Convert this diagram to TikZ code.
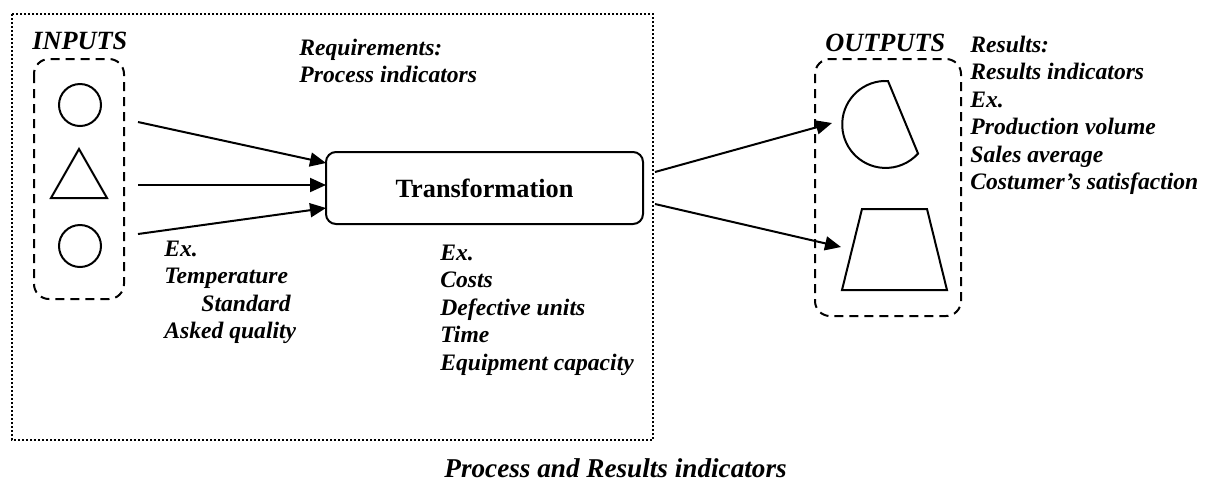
\documentclass[tikz,border=0pt]{standalone}
\usepackage{fontspec}
\setmainfont{Liberation Serif}
\usetikzlibrary{arrows.meta}
\newcommand\lineblock[1]{\vtop{\baselineskip=13.75pt\lineskiplimit=-20pt\halign{##\hfil\cr#1\crcr}}}
\begin{document}
\begin{tikzpicture}[x=0.5pt,y=-0.5pt,
  txt/.style={font=\fontsize{11.8}{13.75}\selectfont\bfseries\itshape, inner sep=0pt, anchor=base west},
  head/.style={font=\fontsize{13.15}{15}\selectfont\bfseries\itshape, inner sep=0pt, anchor=base west},
  arr/.style={line width=1pt, -{Triangle[length=8pt,width=7pt]}},
  shp/.style={line width=1pt},
  grp/.style={line width=1pt, dash pattern=on 4.5pt off 3pt, rounded corners=7.5pt},
  frame/.style={line width=1pt, dash pattern=on 1pt off 1pt}]
\useasboundingbox (0,0) rectangle (1212,484);

% outer dotted frame
\draw[frame] (12,14) rectangle (653,440);

% headings
\node[head] (inputs) at (32,49) {INPUTS};
\node[head] (outputs) at (825,51) {OUTPUTS};

% input group
\draw[grp] (34,59) rectangle (124,299);
\node[shp, draw, circle, minimum size=21pt, inner sep=0pt] (c1) at (80,105) {};
\draw[shp] (79,149) -- (107,198) -- (51,198) -- cycle;
\node[shp, draw, circle, minimum size=21pt, inner sep=0pt] (c2) at (80,246) {};

% transformation
\node[draw, line width=1pt, rounded corners=5pt, minimum width=158.5pt, minimum height=36pt,
      inner sep=0pt, font=\fontsize{13.15}{15}\selectfont\bfseries] (tr) at (484.5,188) {Transformation};

% input arrows
\coordinate (s1) at (138,122); \coordinate (e1) at (326,163);
\coordinate (s2) at (138,185); \coordinate (e2) at (326,185);
\coordinate (s3) at (138,234); \coordinate (e3) at (326,208);
\draw[arr] (s1) -- (e1);
\draw[arr] (s2) -- (e2);
\draw[arr] (s3) -- (e3);

% output group
\draw[grp] (815,59) rectangle (961,316);
\draw[shp] (888,81) arc[start angle=273, end angle=42, radius=43.5] -- cycle;
\draw[shp] (862,209) -- (927,209) -- (947,290) -- (842,290) -- cycle;

% output arrows
\coordinate (o1) at (655,172); \coordinate (f1) at (832,123);
\coordinate (o2) at (655,204); \coordinate (f2) at (841,247);
\draw[arr] (o1) -- (f1);
\draw[arr] (o2) -- (f2);

% texts
\node[txt] (req) at (299,55) {\lineblock{Requirements:\cr Process indicators}};
\node[txt] (inex) at (164,256) {\lineblock{Ex.\cr Temperature\cr \hspace*{18.5pt}Standard\cr Asked quality}};
\node[txt] (trex) at (440,260) {\lineblock{Ex.\cr Costs\cr Defective units\cr Time\cr Equipment capacity}};
\node[txt] (res) at (970,52) {\lineblock{Results:\cr Results indicators\cr Ex.\cr Production volume\cr Sales average\cr Costumer’s satisfaction}};

% caption
\node[head, font=\fontsize{13.6}{15}\selectfont\bfseries\itshape] (cap) at (444,477) {Process and Results indicators};
\end{tikzpicture}
\end{document}
